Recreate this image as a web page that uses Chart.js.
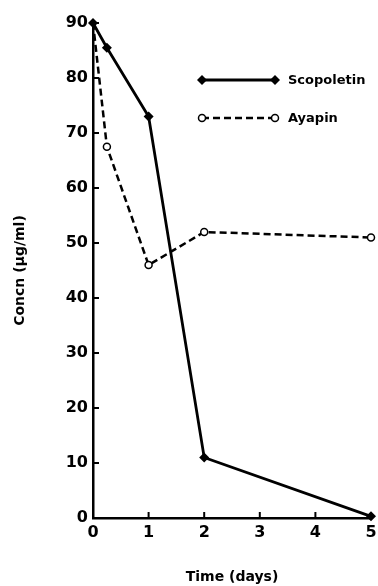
<!DOCTYPE html>
<html>
<head>
<meta charset="utf-8">
<script src="https://cdn.jsdelivr.net/npm/chart.js@4"></script>
<style>
  html, body { margin: 0; padding: 0; background: #fff; }
  #wrap { width: 378px; height: 586px; position: relative; }
</style>
</head>
<body>
<div id="wrap"><canvas id="concChart"></canvas></div>
<script>
// values
const xTicks = [0, 1, 2, 3, 4, 5];
const yTicks = [0, 10, 20, 30, 40, 50, 60, 70, 80, 90];
const scopoletinDays = [0, 0.25, 1, 2, 5];
const scopoletinConc = [90, 85.5, 73, 11, 0.3];
const ayapinDays = [0, 0.25, 1, 2, 5];
const ayapinConc = [90, 67.5, 46, 52, 51];

const FONT = '"DejaVu Sans", sans-serif';

// short ticks pointing into the plot, plus the little legend in the corner
const extras = {
    id: 'extras',
    afterDraw(chart) {
        const ctx = chart.ctx;
        const x = chart.scales.x, y = chart.scales.y;
        const area = chart.chartArea;
        ctx.save();
        ctx.strokeStyle = '#000';
        ctx.lineWidth = 2;
        yTicks.slice(1).forEach(v => {
            const py = y.getPixelForValue(v);
            ctx.beginPath();
            ctx.moveTo(area.left, py);
            ctx.lineTo(area.left + 6, py);
            ctx.stroke();
        });
        xTicks.slice(1, -1).forEach(v => {
            const px = x.getPixelForValue(v);
            ctx.beginPath();
            ctx.moveTo(px, area.bottom);
            ctx.lineTo(px, area.bottom - 6);
            ctx.stroke();
        });

        // legend
        const lx0 = area.left + 109, lx1 = area.left + 182;
        const rows = [area.top + 57, area.top + 95];
        chart.data.datasets.forEach((ds, i) => {
            const ly = rows[i];
            ctx.lineWidth = ds.borderWidth;
            ctx.setLineDash(ds.borderDash || []);
            ctx.beginPath();
            ctx.moveTo(lx0, ly);
            ctx.lineTo(lx1, ly);
            ctx.stroke();
            ctx.setLineDash([]);
            [lx0, lx1].forEach(px => {
                ctx.beginPath();
                if (ds.pointStyle === 'rectRot') {
                    const r = 5;
                    ctx.moveTo(px, ly - r); ctx.lineTo(px + r, ly);
                    ctx.lineTo(px, ly + r); ctx.lineTo(px - r, ly);
                    ctx.closePath();
                    ctx.fillStyle = '#000';
                    ctx.fill();
                } else {
                    ctx.arc(px, ly, 3.5, 0, Math.PI * 2);
                    ctx.fillStyle = '#fff';
                    ctx.fill();
                    ctx.lineWidth = ds.pointBorderWidth;
                    ctx.stroke();
                }
            });
            ctx.fillStyle = '#000';
            ctx.font = 'bold 13px ' + FONT;
            ctx.textBaseline = 'middle';
            ctx.fillText(ds.label, lx1 + 13, ly + 1);
        });
        ctx.restore();
    }
};

new Chart(document.getElementById('concChart'), {
    type: 'line',
    data: {
        datasets: [
            {
                label: 'Scopoletin',
                data: scopoletinDays.map((d, i) => ({ x: d, y: scopoletinConc[i] })),
                borderColor: '#000',
                backgroundColor: '#000',
                borderWidth: 2.8,
                pointStyle: 'rectRot',
                pointRadius: 5,
                pointBackgroundColor: '#000',
                pointBorderWidth: 0
            },
            {
                label: 'Ayapin',
                data: ayapinDays.map((d, i) => ({ x: d, y: ayapinConc[i] })),
                borderColor: '#000',
                backgroundColor: '#fff',
                borderWidth: 2.5,
                borderDash: [7, 4],
                pointStyle: 'circle',
                pointRadius: [0, 3.5, 3.5, 3.5, 3.5],
                pointBackgroundColor: '#fff',
                pointBorderColor: '#000',
                pointBorderWidth: 1.5
            }
        ]
    },
    options: {
        responsive: true,
        maintainAspectRatio: false,
        animation: false,
        clip: false,
        layout: { padding: { top: 23, right: 7, left: 0, bottom: 0 } },
        plugins: { legend: { display: false }, tooltip: { enabled: false } },
        scales: {
            x: {
                type: 'linear',
                min: 0,
                max: 5,
                afterFit: s => { s.height = 68; s.paddingLeft = 0; s.paddingRight = 0; },
                afterBuildTicks: s => { s.ticks = xTicks.map(v => ({ value: v })); },
                grid: { display: false, drawTicks: false },
                border: { display: true, color: '#000', width: 2.5 },
                ticks: { padding: 5, color: '#000', font: { family: FONT, size: 16, weight: 'bold' } },
                title: {
                    display: true,
                    text: 'Time (days)',
                    color: '#000',
                    padding: { top: 0, bottom: 0 },
                    font: { family: FONT, size: 14, weight: 'bold' }
                }
            },
            y: {
                min: 0,
                max: 90,
                afterFit: s => { s.width = 93; },
                afterBuildTicks: s => { s.ticks = yTicks.map(v => ({ value: v })); },
                grid: { display: false, drawTicks: false },
                border: { display: true, color: '#000', width: 2.5 },
                ticks: { padding: 5, color: '#000', font: { family: FONT, size: 16, weight: 'bold' } },
                title: {
                    display: true,
                    text: 'Concn (µg/ml)',
                    color: '#000',
                    padding: { top: 12, bottom: 0 },
                    font: { family: FONT, size: 14, weight: 'bold' }
                }
            }
        }
    },
    plugins: [extras]
});
</script>
</body>
</html>
